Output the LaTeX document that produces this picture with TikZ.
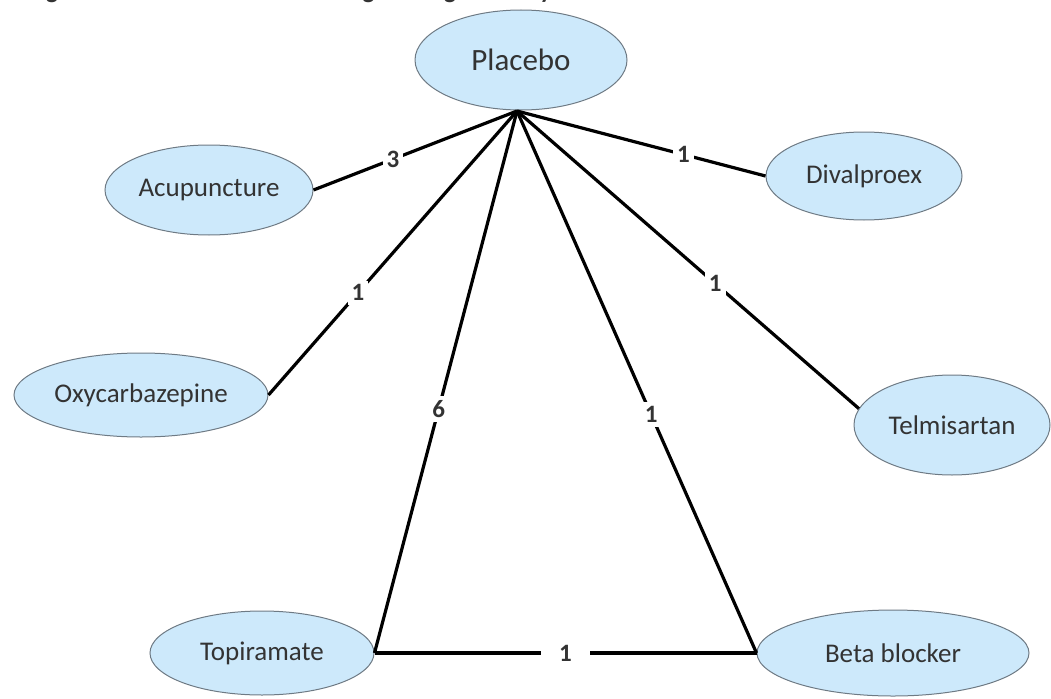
\documentclass[tikz,border=0pt]{standalone}
\usepackage{fontspec}
\setmainfont{Carlito}
\usetikzlibrary{shapes.geometric}
\definecolor{nodefill}{HTML}{CDE9FB}
\definecolor{nodeline}{HTML}{6E7A84}
\definecolor{nodetext}{HTML}{333333}
\tikzset{
  drug/.style={ellipse, draw=nodeline, line width=1pt, fill=nodefill, inner sep=0pt, text=nodetext, font=\fontsize{27}{30}\selectfont},
  link/.style={line width=3.2pt, black},
  cnt/.style={fill=white, inner sep=4pt, font=\bfseries\fontsize{25}{28}\selectfont, text=nodetext}
}
\begin{document}
\begin{tikzpicture}[x=1pt,y=-1pt]
\useasboundingbox (0,0) rectangle (1051,698);
% truncated caption at the top
\node[anchor=base west, font=\bfseries\fontsize{25}{28}\selectfont, text=nodetext] (cap1) at (25,-1.5) {Figure 2.1:};
\node[anchor=base west, font=\bfseries\fontsize{25}{28}\selectfont, text=nodetext] (cap2) at (178,-1.5) {Network for change in migraine days.};
% nodes
\node[drug, minimum width=212pt, minimum height=100pt, font=\fontsize{31}{34}\selectfont] (P) at (521,60) {Placebo};
\node[drug, minimum width=208pt, minimum height=90pt] (A) at (209,190) {Acupuncture};
\node[drug, minimum width=196pt, minimum height=88pt] (D) at (864,176) {Divalproex};
\node[drug, minimum width=254pt, minimum height=84pt] (O) at (141,395) {Oxycarbazepine};
\node[drug, minimum width=196pt, minimum height=100pt] (Te) at (952,425) {Telmisartan};
\node[drug, minimum width=224pt, minimum height=84pt] (T) at (262,653) {Topiramate};
\node[drug, minimum width=272pt, minimum height=86pt] (B) at (893,653) {Beta blocker};
\coordinate (hub) at (517,111);
% edges
\draw[link] (hub) -- node[cnt, pos=0.61] (lA) {3} (A.east);
\draw[link] (hub) -- node[cnt, pos=0.67] (lD) {1} (D.west);
\draw[link] (hub) -- node[cnt, pos=0.64] (lO) {1} (O.east);
\draw[link] (hub) -- node[cnt, pos=0.55] (lT) {6} (T.east);
\draw[link] (hub) -- node[cnt, pos=0.56] (lB) {1} (B.west);
\draw[link] (hub) -- node[cnt, pos=0.58] (lTe) {1} (Te.170);
\draw[link] (T.east) -- node[cnt, pos=0.5, inner xsep=18pt] (lTB) {1} (B.west);
\end{tikzpicture}
\end{document}
